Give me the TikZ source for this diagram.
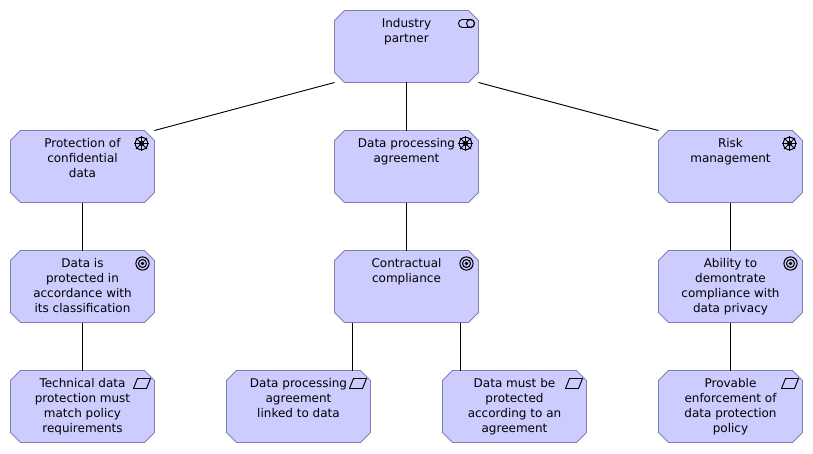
\documentclass[tikz,border=0pt]{standalone}
\usepackage{fontspec}
\setmainfont{DejaVu Sans}
\usetikzlibrary{positioning}
\definecolor{elemfill}{RGB}{204,204,255}
\definecolor{elemline}{RGB}{128,128,176}
% a rectangle with all four corners cut off
\makeatletter
\pgfdeclareshape{cutbox}{
  \inheritsavedanchors[from=rectangle]
  \inheritanchorborder[from=rectangle]
  \inheritanchor[from=rectangle]{center}
  \inheritanchor[from=rectangle]{north}
  \inheritanchor[from=rectangle]{south}
  \inheritanchor[from=rectangle]{east}
  \inheritanchor[from=rectangle]{west}
  \inheritanchor[from=rectangle]{north east}
  \inheritanchor[from=rectangle]{north west}
  \inheritanchor[from=rectangle]{south east}
  \inheritanchor[from=rectangle]{south west}
  \backgroundpath{
    \southwest \pgf@xa=\pgf@x \pgf@ya=\pgf@y
    \northeast \pgf@xb=\pgf@x \pgf@yb=\pgf@y
    \pgf@xc=\pgf@xa \advance\pgf@xc by 7.5pt
    \pgf@yc=\pgf@ya \advance\pgf@yc by 7.5pt
    \pgf@xd=\pgf@xb \advance\pgf@xd by -7.5pt
    \pgf@yd=\pgf@yb \advance\pgf@yd by -7.5pt
    \pgfpathmoveto{\pgfqpoint{\pgf@xc}{\pgf@ya}}
    \pgfpathlineto{\pgfqpoint{\pgf@xd}{\pgf@ya}}
    \pgfpathlineto{\pgfqpoint{\pgf@xb}{\pgf@yc}}
    \pgfpathlineto{\pgfqpoint{\pgf@xb}{\pgf@yd}}
    \pgfpathlineto{\pgfqpoint{\pgf@xd}{\pgf@yb}}
    \pgfpathlineto{\pgfqpoint{\pgf@xc}{\pgf@yb}}
    \pgfpathlineto{\pgfqpoint{\pgf@xa}{\pgf@yd}}
    \pgfpathlineto{\pgfqpoint{\pgf@xa}{\pgf@yc}}
    \pgfpathclose
  }
}
\makeatother
\tikzset{
  % basic element box, the text hangs from the top edge
  elemtext/.style={anchor=north, yshift=-6pt, align=center, inner sep=0pt,
    font=\fontsize{9}{11.25}\selectfont},
  elem/.style={
    shape=cutbox,
    draw=elemline,
    fill=elemfill,
    line width=.6pt,
    inner sep=0pt,
    outer sep=0pt,
    minimum width=108pt,
    minimum height=54pt,
    label={[elemtext]north:#1}
  },
  link/.style={draw=black, line width=.7pt},
  % icons in the top right corner
  wheelicon/.pic={
    \draw[line width=.7pt] (0,0) circle (6.3);
    \fill (0,0) circle (2.6);
    \foreach \a in {0,45,...,315} \draw[line width=.6pt] (0,0) -- (\a:7.8);
  },
  targeticon/.pic={
    \draw[line width=.8pt] (0,0) circle (6.6);
    \draw[line width=.8pt] (0,0) circle (4);
    \fill (0,0) circle (1.8);
  },
  reqicon/.pic={
    \draw[line width=.7pt] (-8.5,-5) -- (-4.5,5) -- (8.5,5) -- (4.5,-5) -- cycle;
  },
  roleicon/.pic={
    \draw[line width=.7pt] (-4,-4) arc (270:90:4) -- (4,4) arc (90:-90:4) -- cycle;
    \draw[line width=.7pt] (4,0) circle (4);
  }
}
\begin{document}
\begin{tikzpicture}[x=.75pt, y=.75pt, node distance=36pt]
  \useasboundingbox (-406.5,46.5) rectangle (406.5,-406.5);

  \node [elem={Industry\\partner}] (ip) at (0,0) {};

  % second row
  \node [elem={Data processing\\agreement}, below=of ip] (dpa) {};
  \node [elem={Protection of\\confidential\\data}, left=135pt of dpa] (conf) {};
  \node [elem={Risk\\management}, right=135pt of dpa] (risk) {};

  % third row
  \node [elem={Data is\\protected in\\accordance with\\its classification}, below=of conf] (prot) {};
  \node [elem={Contractual\\compliance}, below=of dpa] (comp) {};
  \node [elem={Ability to\\demontrate\\compliance with\\data privacy}, below=of risk] (abil) {};

  % last row
  \node [elem={Technical data\\protection must\\match policy\\requirements}, below=of prot] (tech) {};
  \node [elem={Data processing\\agreement\\linked to data}, below=of comp, xshift=-81pt] (linked) {};
  \node [elem={Data must be\\protected\\according to an\\agreement}, below=of comp, xshift=81pt] (must) {};
  \node [elem={Provable\\enforcement of\\data protection\\policy}, below=of abil] (prov) {};

  % connectors
  \draw [link] (ip.south west) -- (conf.north east);
  \draw [link] (ip.south) -- (dpa.north);
  \draw [link] (ip.south east) -- (risk.north west);
  \draw [link] (conf) -- (prot);
  \draw [link] (dpa) -- (comp);
  \draw [link] (risk) -- (abil);
  \draw [link] (prot) -- (tech);
  \draw [link] (abil) -- (prov);
  \draw [link] ([xshift=-40.5pt]comp.south) -- ([xshift=40.5pt]linked.north);
  \draw [link] ([xshift=40.5pt]comp.south) -- ([xshift=-40.5pt]must.north);

  % icons
  \pic at ([shift={(-12,-13)}]ip.north east) {roleicon};
  \foreach \n in {conf,dpa,risk} \pic at ([shift={(-13,-13)}]\n.north east) {wheelicon};
  \foreach \n in {prot,comp,abil} \pic at ([shift={(-12,-13)}]\n.north east) {targeticon};
  \foreach \n in {tech,linked,must,prov} \pic at ([shift={(-12.5,-13)}]\n.north east) {reqicon};
\end{tikzpicture}
\end{document}
